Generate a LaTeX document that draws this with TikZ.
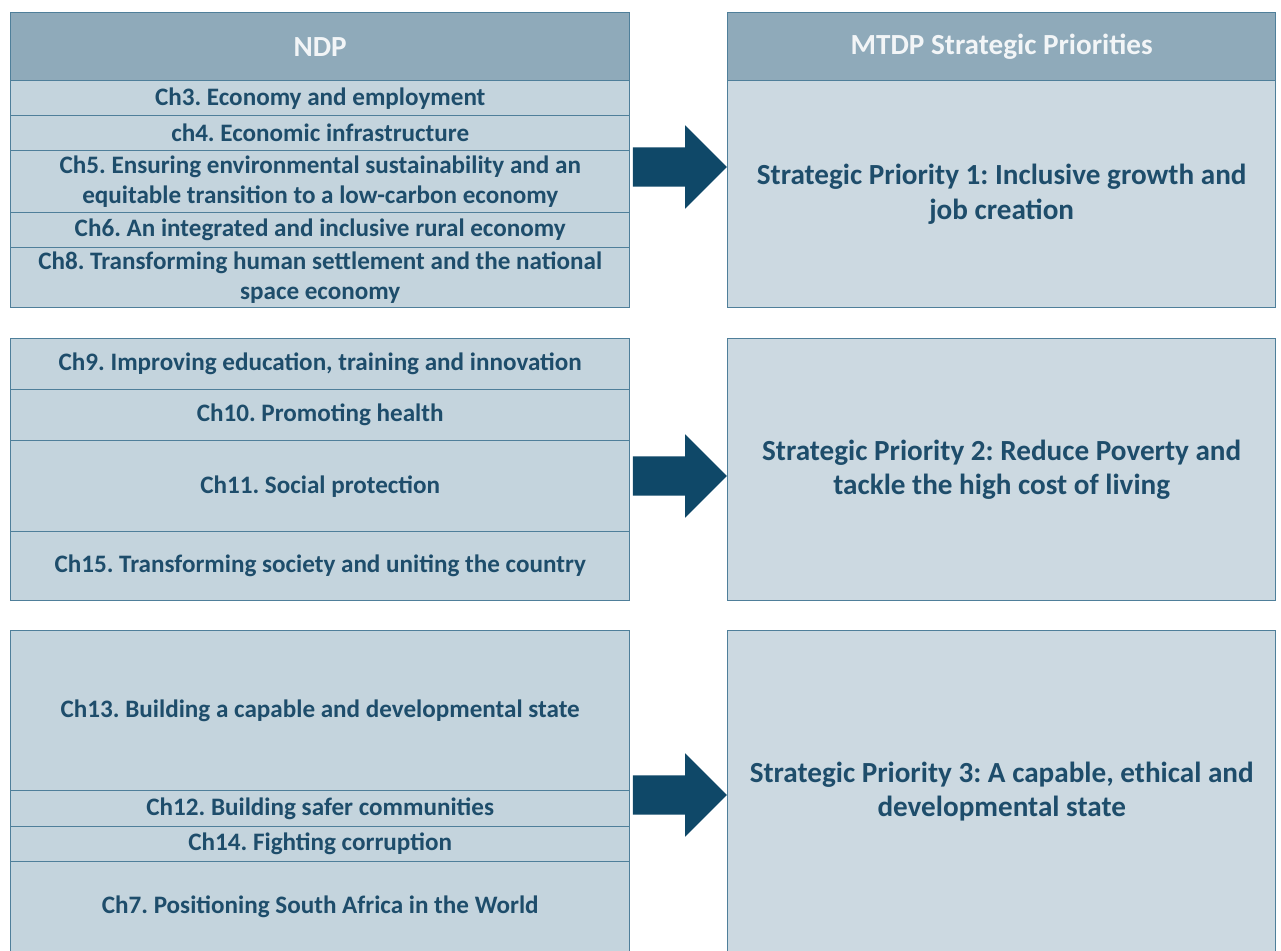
\documentclass[tikz,border=0pt]{standalone}
\usepackage{fontspec}
\setmainfont{Carlito}
\usetikzlibrary{shapes.arrows}
\definecolor{hdrblue}{HTML}{8FAABA}
\definecolor{cellblue}{HTML}{C4D4DD}
\definecolor{prioblue}{HTML}{CCD9E1}
\definecolor{edgeblue}{HTML}{4F7F9A}
\definecolor{textblue}{HTML}{1E4D6B}
\definecolor{arrowblue}{HTML}{0F4868}
\definecolor{hdrtext}{HTML}{F2F5F7}
\frenchspacing

\begin{document}
\begin{tikzpicture}[semithick]
                \newcommand{\pxl}{0.02}
                \tikzset{
                    box/.style={draw=edgeblue, line width=0.8pt, anchor=north west, inner sep=0pt, align=center},
                    hdr/.style={box, fill=hdrblue, text=hdrtext, minimum height=68*\pxl cm, font=\bfseries\fontsize{16.6}{20}\selectfont},
                    cell/.style={box, fill=cellblue, text=textblue, minimum width=619*\pxl cm, font=\bfseries\fontsize{14.3}{17}\selectfont},
                    prio/.style={box, fill=prioblue, text=textblue, minimum width=548*\pxl cm, font=\bfseries\fontsize{16.6}{19.5}\selectfont},
                    bigarrow/.style={single arrow, fill=arrowblue, inner xsep=0pt, inner ysep=19*\pxl cm, minimum height=94*\pxl cm, single arrow head extend=22*\pxl cm}
                }
                \useasboundingbox[fill=white] (0, 0) rectangle (1281*\pxl, -951*\pxl);
                % headers
                \node[hdr, minimum width=619*\pxl cm] (ndp) at (10*\pxl, -12*\pxl) {NDP};
                \node[hdr, minimum width=548*\pxl cm] (mtdp) at (727*\pxl, -12*\pxl) {MTDP Strategic Priorities};
                % NDP chapters
                \foreach \nm/\y/\h/\txt in {
                    c3/80/35/{Ch3. Economy and employment},
                    c4/115/35/{ch4. Economic infrastructure},
                    c5/150/62/{Ch5. Ensuring environmental sustainability and an\\equitable transition to a low-carbon economy},
                    c6/212/35/{Ch6. An integrated and inclusive rural economy},
                    c8/247/60/{Ch8. Transforming human settlement and the national\\space economy},
                    c9/338/51/{Ch9. Improving education, training and innovation},
                    c10/389/51/{Ch10. Promoting health},
                    c11/440/91/{Ch11. Social protection},
                    c15/531/69/{Ch15. Transforming society and uniting the country},
                    c13/630/160/{Ch13. Building a capable and developmental state},
                    c12/790/36/{Ch12. Building safer communities},
                    c14/826/35/{Ch14. Fighting corruption},
                    c7/861/91/{Ch7. Positioning South Africa in the World}} {
                    \node[cell, minimum height=\h*\pxl cm] (\nm) at (10*\pxl, -\y*\pxl) {\txt};
                }
                % priorities
                \node[prio, minimum height=227*\pxl cm] (sp1) at (727*\pxl, -80*\pxl) {Strategic Priority 1: Inclusive growth and\\job creation};
                \node[prio, minimum height=262*\pxl cm] (sp2) at (727*\pxl, -338*\pxl) {Strategic Priority 2: Reduce Poverty and\\tackle the high cost of living};
                \node[prio, minimum height=322*\pxl cm] (sp3) at (727*\pxl, -630*\pxl) {Strategic Priority 3: A capable, ethical and\\developmental state};
                % arrows
                \node[bigarrow] (a1) at (670*\pxl, -167*\pxl) {};
                \node[bigarrow] (a2) at (670*\pxl, -476*\pxl) {};
                \node[bigarrow] (a3) at (670*\pxl, -795*\pxl) {};
            \end{tikzpicture}
\end{document}
